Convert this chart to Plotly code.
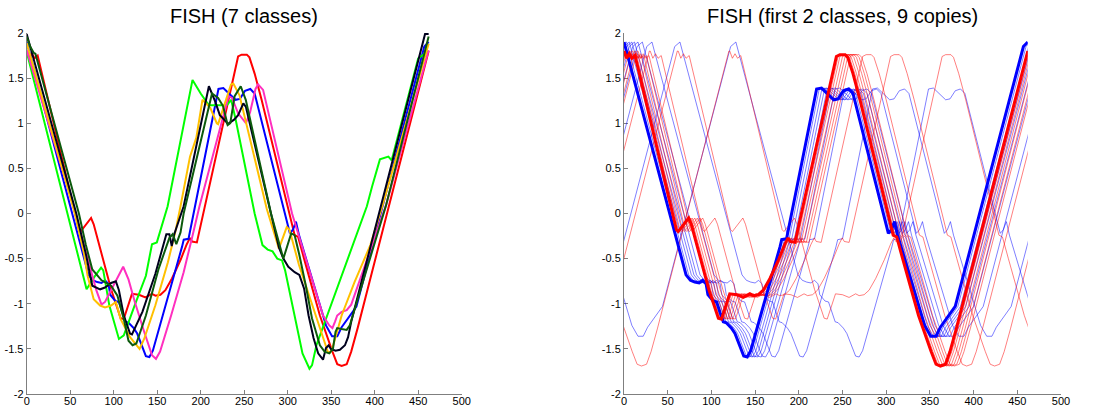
import numpy as np
import plotly.graph_objects as go

# ---------------- data ----------------
L = 463  # series length (period used for the circular-shift copies)

red_x = [0, 3, 6, 9, 12.6, 60, 62, 66, 74, 77, 97, 108, 111.5, 115.6, 121, 129, 136.5, 144, 148, 153.7,
         159.4, 167, 177, 184, 187.7, 190, 195.6, 243, 247, 253, 256, 262, 270, 308, 312, 318.8, 337,
         351.4, 357, 362, 367.8, 373, 380.4, 462]
red_y = [1.8, 1.72, 1.77, 1.72, 1.75, -0.18, -0.2, -0.15, -0.05, -0.12, -0.84, -1.16, -1.17, -1.05, -0.89,
         -0.9, -0.93, -0.89, -0.91, -0.9, -0.85, -0.72, -0.51, -0.34, -0.27, -0.31, -0.32, 1.74, 1.76, 1.76,
         1.73, 1.55, 1.26, -0.24, -0.26, -0.5, -1.13, -1.53, -1.67, -1.69, -1.67, -1.53, -1.27, 1.8]

blue_x = [0, 71, 76, 81, 86, 90, 94, 96, 102, 106, 110, 113.6, 117, 123, 127, 133, 137, 141, 145, 178.5,
          180.5, 186, 220.4, 226, 234, 240, 245, 251, 257, 262, 274, 302.5, 306, 309.5, 313, 326, 337, 344,
          351, 357, 362, 369.6, 375, 379, 457, 462]
blue_y = [1.9, -0.68, -0.74, -0.76, -0.77, -0.74, -0.78, -0.9, -0.97, -0.98, -1.1, -1.2, -1.21, -1.27, -1.33,
          -1.47, -1.58, -1.59, -1.52, -0.37, -0.29, -0.28, 1.38, 1.39, 1.31, 1.26, 1.27, 1.36, 1.38, 1.33, 0.87,
          -0.22, -0.18, -0.09, -0.24, -0.65, -1.01, -1.24, -1.36, -1.36, -1.26, -1.16, -1.09, -1.03, 1.85, 1.9]

green_x = [0, 68.8, 78, 85.5, 88, 95, 106, 111.6, 124, 137, 144, 149.6, 162, 190.6, 200, 209.4, 224, 230,
           235, 240, 262, 271, 277, 282.6, 288, 293.5, 297, 304, 310, 317, 325, 328, 333, 345, 360, 391, 397,
           406, 415.7, 419.5, 450, 462]
green_y = [1.79, -0.84, -0.7, -0.6, -0.63, -1.02, -1.39, -1.35, -1.02, -0.69, -0.34, -0.32, 0.08, 1.48, 1.33,
           1.2, 1.2, 1.2, 1.26, 1.05, 0.0, -0.35, -0.4, -0.42, -0.5, -0.52, -0.63, -0.94, -1.24, -1.55, -1.72,
           -1.68, -1.46, -1.14, -0.74, 0.08, 0.3, 0.6, 0.63, 0.59, 1.72, 1.8]

magenta_x = [0, 56, 80, 86, 90, 110.9, 117, 124.3, 135, 144, 148.6, 153.3, 166, 180.4, 189.5, 198.6, 232,
             236, 243, 252, 256.7, 263, 266, 271.7, 305, 340.6, 347.8, 351.4, 354.3, 356.9, 362, 367.8, 373,
             413, 462]
magenta_y = [1.81, 0.0, -0.85, -1.01, -0.98, -0.59, -0.73, -0.98, -1.31, -1.57, -1.61, -1.53, -1.13, -0.65,
             -0.29, 0.08, 1.3, 1.28, 1.11, 1.0, 1.12, 1.38, 1.43, 1.37, 0.0, -1.13, -1.24, -1.27, -1.2, -1.13,
             -1.09, -1.07, -1.01, 0.09, 1.81]

yellow_x = [0, 55.4, 66, 70, 77, 84.4, 90, 97, 102.5, 108, 118.8, 126, 129.7, 135, 147.8, 162.3, 171.4,
            176.8, 187.7, 195, 202, 211, 218.5, 220, 225.7, 234.8, 237.5, 244.6, 276, 289.9, 298.9, 302, 313,
            346, 349, 352, 362, 376.8, 395, 409, 462]
yellow_y = [1.89, 0.0, -0.45, -0.69, -0.95, -1.02, -1.04, -1.02, -0.98, -1.17, -1.37, -1.46, -1.5, -1.39,
            -1.02, -0.54, -0.18, 0.08, 0.63, 0.84, 1.26, 1.17, 1.0, 0.99, 1.15, 1.43, 1.44, 1.31, 0.05, -0.39,
            -0.15, -0.18, -0.57, -1.53, -1.54, -1.47, -1.13, -0.76, -0.35, 0.09, 1.88]

black_x = [0, 57, 68, 75.4, 84.4, 90, 97, 102.5, 106, 111.6, 118.8, 121, 133, 147.8, 160.5, 164, 166.7,
           169.6, 180.4, 209.4, 216.7, 222, 229, 231, 238.4, 243, 249, 252, 290, 295, 300.7, 308, 313.4,
           318.8, 324, 329.7, 335, 340.6, 344, 347, 349.6, 355, 360, 365.8, 369.4, 373, 457.9, 462]
black_y = [1.99, 0.0, -0.45, -0.8, -0.84, -0.82, -0.77, -0.75, -0.85, -1.13, -1.33, -1.34, -1.09, -0.67,
           -0.23, -0.23, -0.36, -0.23, 0.08, 1.41, 1.24, 1.09, 1.02, 0.99, 1.04, 1.09, 1.22, 1.18, -0.38, -0.5,
           -0.59, -0.65, -0.68, -0.83, -1.13, -1.38, -1.55, -1.62, -1.49, -1.46, -1.5, -1.52, -1.51, -1.46,
           -1.37, -1.2, 1.99, 1.99]

dgreen_x = [0, 4, 8, 10, 60, 68, 75.4, 86, 97, 104.3, 111.6, 117, 121.7, 126, 137, 151.4, 164, 167.8, 172,
            176.8, 180.4, 213, 220, 225.7, 231, 234, 239, 246, 251.8, 280.8, 295, 304, 308, 313.4, 320.6,
            327.9, 337, 342.4, 347.8, 352, 355, 356.9, 362, 367.8, 371.4, 413, 462]
dgreen_y = [1.96, 1.85, 1.78, 1.77, 0.0, -0.35, -0.62, -0.74, -0.8, -0.91, -1.17, -1.41, -1.46, -1.44, -1.13,
            -0.62, -0.27, -0.23, -0.34, -0.21, 0.0, 1.33, 1.28, 1.19, 0.98, 1.0, 1.3, 1.41, 1.26, 0.0, -0.5,
            -0.22, -0.24, -0.46, -0.79, -1.16, -1.46, -1.53, -1.55, -1.5, -1.31, -1.27, -1.28, -1.29, -1.24,
            0.09, 1.96]

# circular shifts of the 9 copies (right panel)
blue_shifts = [3, 6, 9, 12, 16, 21, 32, 64, 128]
red_shifts = [2, 4, 7, 10, 13, 16, 30, 62, 121]

x_ticks = [0, 50, 100, 150, 200, 250, 300, 350, 400, 450, 500]
y_ticks = [2, 1.5, 1, 0.5, 0, -0.5, -1, -1.5, -2]
y_tick_text = ["2", "1.5", "1", "0.5", "0", "-0.5", "-1", "-1.5", "-2"]

titles = ["FISH (7 classes)", "FISH (first 2 classes, 9 copies)"]

# ---------------- figure ----------------
W, H = 1097, 408
left_dom = [26.7 / W, 461.7 / W]
right_dom = [624.0 / W, 1061.0 / W]
clip_dom = [right_dom[0], right_dom[0] + (right_dom[1] - right_dom[0]) * 462 / 500]

FONT = "Liberation Sans, Arial, Helvetica, sans-serif"

fig = go.Figure()

left_series = [
    (red_x, red_y, "#ff0000"),
    (blue_x, blue_y, "#0000ff"),
    (green_x, green_y, "#00ff00"),
    (magenta_x, magenta_y, "#ff2fbf"),
    (yellow_x, yellow_y, "#ffc000"),
    (black_x, black_y, "#00001e"),
    (dgreen_x, dgreen_y, "#0c5a0c"),
]
for xs, ys, col in left_series:
    fig.add_trace(go.Scatter(x=xs, y=ys, mode="lines", line=dict(color=col, width=2),
                             xaxis="x", yaxis="y", hoverinfo="skip", showlegend=False))

# invisible trace so the right-hand axes (x2/y2) get drawn
fig.add_trace(go.Scatter(x=[None], y=[None], mode="lines", xaxis="x2", yaxis="y2",
                         hoverinfo="skip", showlegend=False))


def add_copies(bx, by, shifts, color):
    bx = np.asarray(bx, dtype=float)
    by = np.asarray(by, dtype=float)
    for s in shifts:
        xs = np.concatenate([bx + s - L, bx + s])
        ys = np.concatenate([by, by])
        fig.add_trace(go.Scatter(x=xs, y=ys, mode="lines", line=dict(color=color, width=1),
                                 xaxis="x3", yaxis="y2", hoverinfo="skip", showlegend=False))


add_copies(blue_x, blue_y, blue_shifts, "rgba(0,0,255,0.5)")
add_copies(red_x, red_y, red_shifts, "rgba(255,0,0,0.5)")

fig.add_trace(go.Scatter(x=blue_x, y=blue_y, mode="lines", line=dict(color="#0000ff", width=3),
                         xaxis="x3", yaxis="y2", hoverinfo="skip", showlegend=False))
fig.add_trace(go.Scatter(x=red_x, y=red_y, mode="lines", line=dict(color="#ff0000", width=3),
                         xaxis="x3", yaxis="y2", hoverinfo="skip", showlegend=False))

axis_common = dict(showgrid=False, zeroline=False, showline=True, linecolor="#7f7f7f", linewidth=1,
                   ticks="inside", ticklen=4, tickwidth=1, tickcolor="#7f7f7f",
                   tickfont=dict(family=FONT, size=11, color="#000000"), automargin=False, mirror=False)

fig.update_layout(
    width=W, height=H,
    margin=dict(l=0, r=0, t=33, b=14, pad=0),
    paper_bgcolor="white", plot_bgcolor="rgba(0,0,0,0)",
    showlegend=False,
    xaxis=dict(domain=left_dom, range=[0, 500], tickvals=x_ticks, anchor="y", ticklabelstandoff=-3,
               **axis_common),
    yaxis=dict(domain=[0, 1], range=[-2, 2], tickvals=y_ticks, ticktext=y_tick_text, anchor="x",
               **axis_common),
    xaxis2=dict(domain=right_dom, range=[0, 500], tickvals=x_ticks, anchor="y2", ticklabelstandoff=-3,
                **axis_common),
    yaxis2=dict(domain=[0, 1], range=[-2, 2], tickvals=y_ticks, ticktext=y_tick_text, anchor="x2",
                **axis_common),
    xaxis3=dict(domain=clip_dom, range=[0, 462], visible=False, anchor="y2", showgrid=False,
                zeroline=False),
)

for dom, txt in zip([left_dom, right_dom], titles):
    fig.add_annotation(text=txt, xref="paper", yref="paper", x=(dom[0] + dom[1]) / 2,
                       y=1 + (33 - 16) / (H - 47), xanchor="center", yanchor="middle",
                       showarrow=False, font=dict(family=FONT, size=20, color="#000000"))

fig.write_html("out.html", config={"displayModeBar": False},
               post_script="document.body.style.margin='0';document.body.style.overflow='hidden';")
